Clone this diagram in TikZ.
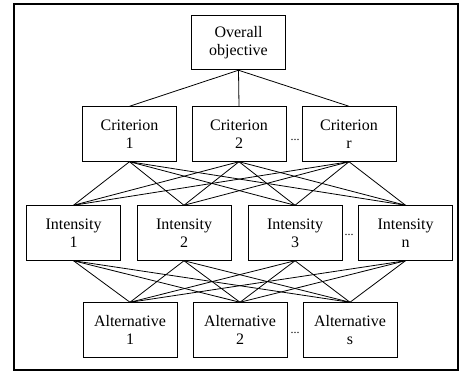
\documentclass[tikz,border=0pt]{standalone}
\usepackage{fontspec}
\setmainfont{Liberation Serif}
\usetikzlibrary{positioning}

\begin{document}
\begin{tikzpicture}[x=0.75pt,y=-0.75pt,line width=0.6pt,blk/.style={draw,minimum width=70.5pt,minimum height=41pt,align=center,inner sep=1pt,font=\fontsize{12}{13.6}\selectfont},gap/.style={inner sep=0pt,font=\small}]
            \useasboundingbox (0,0) rectangle (463,372);
            \draw[line width=1.6pt] (14,4) rectangle (458,370);
            
            \node[blk] (obj) at (238.5,42.5) {Overall\\objective};
            
            \node[blk] (c1) at (129.5,134) {Criterion\\1};
            \node[blk] (c2) at (239,134) {Criterion\\2};
            \node[blk] (c3) at (349,134) {Criterion\\r};
            
            \node[blk] (i1) at (73.5,233) {Intensity\\1};
            \node[blk] (i2) at (184,233) {Intensity\\2};
            \node[blk] (i3) at (295,233) {Intensity\\3};
            \node[blk] (i4) at (405.5,233) {Intensity\\n};
            
            \node[blk] (a1) at (130,330) {Alternative\\1};
            \node[blk] (a2) at (240,330) {Alternative\\2};
            \node[blk] (a3) at (350,330) {Alternative\\s};
            
            \node[gap] (d1) at (295,139.5) {...};
            \node[gap] (d2) at (349,234.5) {...};
            \node[gap] (d3) at (295,332.5) {...};
            
            \draw (obj.south) -- (c1.north);
            \draw (obj.south) -- (c2.north);
            \draw (obj.south) -- (c3.north);
            
            \draw (c1.south) -- (i1.north);
            \draw (c1.south) -- (i2.north);
            \draw (c1.south) -- (i3.north);
            \draw (c1.south) -- (i4.north);
            \draw (c2.south) -- (i1.north);
            \draw (c2.south) -- (i2.north);
            \draw (c2.south) -- (i3.north);
            \draw (c2.south) -- (i4.north);
            \draw (c3.south) -- (i1.north);
            \draw (c3.south) -- (i2.north);
            \draw (c3.south) -- (i3.north);
            \draw (c3.south) -- (i4.north);
            
            \draw (i1.south) -- (a1.north);
            \draw (i1.south) -- (a2.north);
            \draw (i1.south) -- (a3.north);
            \draw (i2.south) -- (a1.north);
            \draw (i2.south) -- (a2.north);
            \draw (i2.south) -- (a3.north);
            \draw (i3.south) -- (a1.north);
            \draw (i3.south) -- (a2.north);
            \draw (i3.south) -- (a3.north);
            \draw (i4.south) -- (a1.north);
            \draw (i4.south) -- (a2.north);
            \draw (i4.south) -- (a3.north);
        \end{tikzpicture}
\end{document}
